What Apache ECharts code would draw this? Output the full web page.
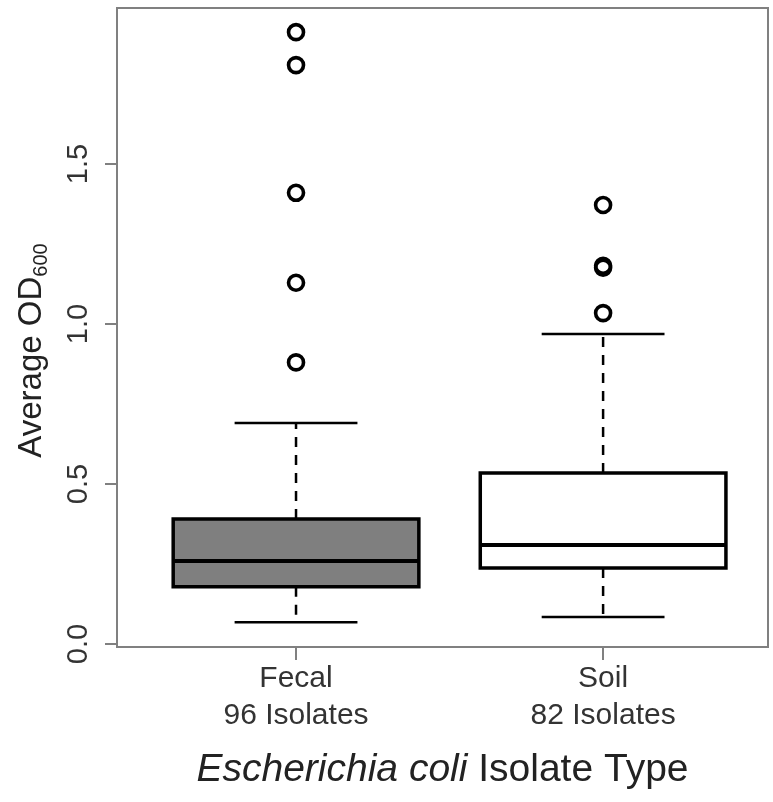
<!DOCTYPE html>
<html>
<head>
<meta charset="utf-8">
<script src="https://cdn.jsdelivr.net/npm/echarts@6/dist/echarts.min.js"></script>
<style>
  html, body { margin: 0; padding: 0; background: #ffffff; }
  #chart { width: 773px; height: 802px; }
</style>
</head>
<body>
<div id="chart"></div>
<script>
// ---- data ----
const categories = ['Fecal', 'Soil'];
const isolateCounts = [96, 82];
const positions = [1, 2];
const lowerWhisker = [0.068, 0.084];
const q1 = [0.179, 0.2375];
const median = [0.259, 0.309];
const q3 = [0.391, 0.534];
const upperWhisker = [0.691, 0.969];
const fecalOutliers = [0.880, 1.129, 1.410, 1.809, 1.912];
const soilOutliers = [1.034, 1.176, 1.182, 1.372];
const yTickValues = [0, 0.5, 1.0, 1.5];

// ---- styling constants ----
const FONT = 'Liberation Sans, Arial, sans-serif';
const boxFills = ['#7f7f7f', '#ffffff'];
const BOX_WIDTH = 0.8;
const CAP_WIDTH = 0.4;

const boxData = positions.map((p, i) => [p, lowerWhisker[i], q1[i], median[i], q3[i], upperWhisker[i]]);
const outlierData = []
  .concat(fecalOutliers.map(v => [positions[0], v]))
  .concat(soilOutliers.map(v => [positions[1], v]));

const chart = echarts.init(document.getElementById('chart'), null, { renderer: 'canvas' });

const option = {
  backgroundColor: '#ffffff',
  animation: false,
  grid: {
    left: 117, right: 5, top: 8, bottom: 155,
    show: true, borderColor: '#808080', borderWidth: 2, backgroundColor: 'transparent'
  },
  xAxis: {
    type: 'value',
    min: 0.417, max: 2.537,
    splitLine: { show: false },
    axisLine: { show: true, onZero: false, lineStyle: { color: '#808080', width: 2 } },
    axisTick: { show: true, length: 13, customValues: positions, lineStyle: { color: '#808080', width: 2 } },
    axisLabel: {
      customValues: positions,
      margin: 13,
      fontFamily: FONT, fontSize: 30, lineHeight: 37, color: '#333333',
      formatter: function (v) {
        const i = positions.indexOf(v);
        return i < 0 ? '' : categories[i] + '\n' + isolateCounts[i] + ' Isolates';
      }
    },
    name: '{i|Escherichia coli}{n| Isolate Type}',
    nameLocation: 'middle',
    nameGap: 101,
    nameTextStyle: {
      rich: {
        i: { fontFamily: FONT, fontSize: 39, fontStyle: 'italic', color: '#222222', lineHeight: 44 },
        n: { fontFamily: FONT, fontSize: 39, color: '#222222', lineHeight: 44 }
      }
    }
  },
  yAxis: {
    type: 'value',
    min: -0.009375, max: 1.9875,
    splitLine: { show: false },
    axisLine: { show: true, onZero: false, lineStyle: { color: '#808080', width: 2 } },
    axisTick: { show: true, length: 12, customValues: yTickValues, lineStyle: { color: '#808080', width: 2 } },
    axisLabel: {
      customValues: yTickValues,
      rotate: 90,
      margin: 24,
      fontFamily: FONT, fontSize: 29, color: '#333333',
      formatter: v => v.toFixed(1)
    },
    name: '{a|Average OD}{b|600}',
    nameLocation: 'middle',
    nameRotate: 90,
    nameGap: 66,
    nameTextStyle: {
      padding: [0, 46, 0, 0],
      rich: {
        a: { fontFamily: FONT, fontSize: 33, color: '#222222', lineHeight: 38 },
        b: { fontFamily: FONT, fontSize: 20, color: '#222222', lineHeight: 15, verticalAlign: 'bottom' }
      }
    }
  },
  series: [
    {
      type: 'custom',
      data: boxData,
      encode: { x: 0, y: [1, 2, 3, 4, 5] },
      renderItem: function (params, api) {
        const x = api.value(0);
        const pLo = api.coord([x, api.value(1)]);
        const pQ1 = api.coord([x, api.value(2)]);
        const pMed = api.coord([x, api.value(3)]);
        const pQ3 = api.coord([x, api.value(4)]);
        const pHi = api.coord([x, api.value(5)]);
        const bw = api.size([BOX_WIDTH, 0])[0];
        const cw = api.size([CAP_WIDTH, 0])[0];
        const cx = pMed[0];
        const dashStyle = { stroke: '#000000', lineWidth: 2.5, lineDash: [10, 8] };
        const solid = { stroke: '#000000', lineWidth: 2.5 };
        return {
          type: 'group',
          children: [
            { type: 'line', shape: { x1: cx, y1: pQ3[1], x2: cx, y2: pHi[1] }, style: dashStyle },
            { type: 'line', shape: { x1: cx, y1: pQ1[1], x2: cx, y2: pLo[1] }, style: dashStyle },
            { type: 'line', shape: { x1: cx - cw / 2, y1: pHi[1], x2: cx + cw / 2, y2: pHi[1] }, style: solid },
            { type: 'line', shape: { x1: cx - cw / 2, y1: pLo[1], x2: cx + cw / 2, y2: pLo[1] }, style: solid },
            {
              type: 'rect',
              shape: { x: cx - bw / 2, y: pQ3[1], width: bw, height: pQ1[1] - pQ3[1] },
              style: { fill: boxFills[params.dataIndex], stroke: '#000000', lineWidth: 3.5 }
            },
            { type: 'line', shape: { x1: cx - bw / 2, y1: pMed[1], x2: cx + bw / 2, y2: pMed[1] }, style: { stroke: '#000000', lineWidth: 4 } }
          ]
        };
      }
    },
    {
      type: 'scatter',
      data: outlierData,
      symbol: 'circle',
      symbolSize: 15,
      itemStyle: { color: 'rgba(255,255,255,0)', borderColor: '#000000', borderWidth: 3.6, opacity: 1 }
    }
  ]
};

chart.setOption(option);
</script>
</body>
</html>
